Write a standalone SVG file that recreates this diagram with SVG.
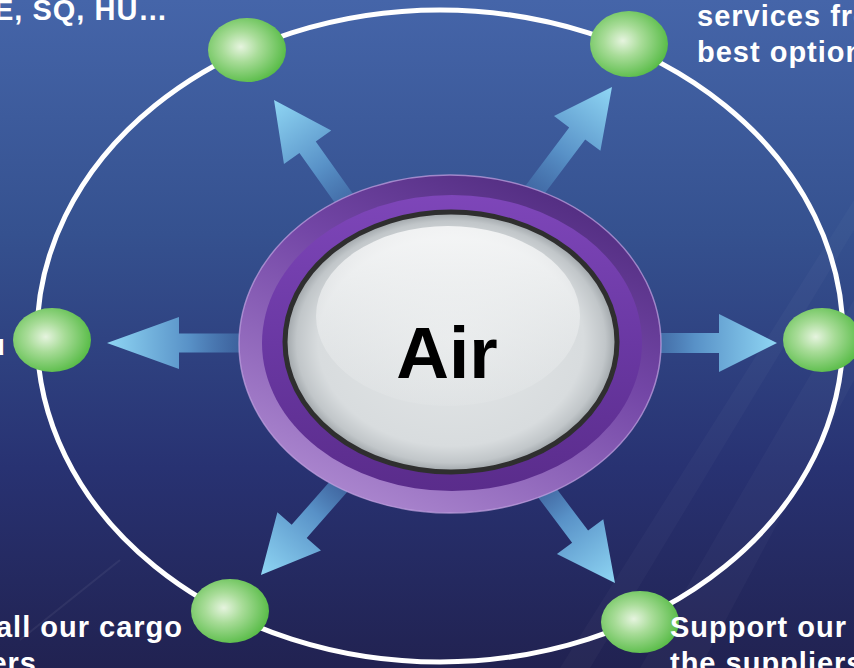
<svg xmlns="http://www.w3.org/2000/svg" width="854" height="668" viewBox="0 0 854 668">
  <defs>
    <linearGradient id="bg" x1="0" y1="0" x2="0" y2="1">
      <stop offset="0" stop-color="#4565a9"/>
      <stop offset="0.35" stop-color="#35518f"/>
      <stop offset="0.7" stop-color="#283272"/>
      <stop offset="1" stop-color="#212251"/>
    </linearGradient>
    <linearGradient id="arrowGrad" x1="0" y1="0" x2="1" y2="0">
      <stop offset="0" stop-color="#3f6aa5" stop-opacity="0.5"/>
      <stop offset="0.45" stop-color="#5891c7"/>
      <stop offset="1" stop-color="#8fd6f4"/>
    </linearGradient>
    <radialGradient id="greenGrad" cx="0.42" cy="0.45" r="0.6">
      <stop offset="0" stop-color="#e6f4df"/>
      <stop offset="0.4" stop-color="#a8dc98"/>
      <stop offset="1" stop-color="#56bb45"/>
    </radialGradient>
    <linearGradient id="ringOuter" x1="0.8" y1="0" x2="0.2" y2="1">
      <stop offset="0" stop-color="#4e2a7c"/>
      <stop offset="0.4" stop-color="#7346a6"/>
      <stop offset="1" stop-color="#b08cd2"/>
    </linearGradient>
    <linearGradient id="ringInner" x1="0" y1="0" x2="0" y2="1">
      <stop offset="0" stop-color="#7e46b9"/>
      <stop offset="0.5" stop-color="#6a38a3"/>
      <stop offset="1" stop-color="#5a2c8b"/>
    </linearGradient>
    <radialGradient id="silver" cx="0.5" cy="0.5" r="0.5">
      <stop offset="0" stop-color="#e4e7e8"/>
      <stop offset="0.8" stop-color="#d8dcde"/>
      <stop offset="0.93" stop-color="#c1c6c9"/>
      <stop offset="1" stop-color="#9da3a7"/>
    </radialGradient>
    <linearGradient id="shine" x1="0" y1="0" x2="0" y2="1">
      <stop offset="0" stop-color="#ffffff" stop-opacity="0.75"/>
      <stop offset="1" stop-color="#eef0f1" stop-opacity="0.15"/>
    </linearGradient>
    <path id="arrowStd" d="M0,-10 L92,-10 L92,-29 L150,0 L92,29 L92,10 L0,10 Z"/>
    <path id="arrowLong" d="M0,-9.5 L78,-9.5 L78,-26 L150,0 L78,26 L78,9.5 L0,9.5 Z"/>
  </defs>
  <style>
    .lbl { font-family: "Liberation Sans", Arial, sans-serif; font-weight: bold; font-size: 29px; fill: #ffffff; letter-spacing: 1px; }
    .node { fill: url(#greenGrad); }
    .arrow { fill: url(#arrowGrad); }
    .orbit { fill: none; stroke: #ffffff; stroke-width: 5; }
  </style>

  <rect width="854" height="668" fill="url(#bg)"/>
  <g opacity="0.025" fill="#ffffff">
    <polygon points="640,668 854,300 854,380 700,668"/>
    <polygon points="560,668 854,200 854,230 590,668"/>
  </g>
  <line x1="20" y1="640" x2="120" y2="560" stroke="#ffffff" stroke-opacity="0.06" stroke-width="2"/>

  <ellipse class="orbit" cx="440" cy="336" rx="403" ry="326"/>

  <g id="connectors">
    <use href="#arrowStd" class="arrow" transform="translate(360.9,222.3) rotate(-125.4)"/>
    <use href="#arrowStd" class="arrow" transform="translate(522,207) rotate(-53.13)"/>
    <use href="#arrowLong" class="arrow" transform="translate(257,343) rotate(180)"/>
    <use href="#arrowStd" class="arrow" transform="translate(627,343)"/>
    <use href="#arrowStd" class="arrow" transform="translate(359.9,462.3) rotate(131.3)"/>
    <use href="#arrowStd" class="arrow" transform="translate(524.8,463.1) rotate(53.05)"/>
  </g>

  <g id="center">
    <ellipse cx="450" cy="344" rx="211" ry="169" fill="url(#ringOuter)" stroke="#c4a4e2" stroke-opacity="0.7" stroke-width="1.5"/>
    <ellipse cx="452" cy="343" rx="190" ry="148" fill="url(#ringInner)"/>
    <ellipse cx="451" cy="342" rx="166" ry="130" fill="url(#silver)" stroke="#2f2f2f" stroke-width="5"/>
    <ellipse cx="448" cy="316" rx="132" ry="90" fill="url(#shine)"/>
    <text x="447" y="378" text-anchor="middle" font-family="'Liberation Sans', Arial, sans-serif" font-weight="bold" font-size="73" fill="#000000">Air</text>
  </g>

  <g id="node-tl"><ellipse class="node" cx="247" cy="50" rx="39" ry="32"/></g>
  <g id="node-tr"><ellipse class="node" cx="629" cy="44" rx="39" ry="33"/></g>
  <g id="node-l"><ellipse class="node" cx="52" cy="340" rx="39" ry="32"/></g>
  <g id="node-r"><ellipse class="node" cx="822" cy="340" rx="39" ry="32"/></g>
  <g id="node-bl"><ellipse class="node" cx="230" cy="611" rx="39" ry="32"/></g>
  <g id="node-br"><ellipse class="node" cx="640" cy="622" rx="39" ry="31"/></g>

  <g id="labels">
    <text class="lbl" x="-6" y="20">E, SQ, HU…</text>
    <text class="lbl" x="697" y="26">services fro</text>
    <text class="lbl" x="697" y="62">best option</text>
    <text class="lbl" x="6" y="355" text-anchor="end">u</text>
    <text class="lbl" x="183" y="637" text-anchor="end">all our cargo</text>
    <text class="lbl" x="37" y="673" text-anchor="end">ers</text>
    <text class="lbl" x="670" y="637">Support our</text>
    <text class="lbl" x="670" y="673">the suppliers</text>
  </g>
</svg>
